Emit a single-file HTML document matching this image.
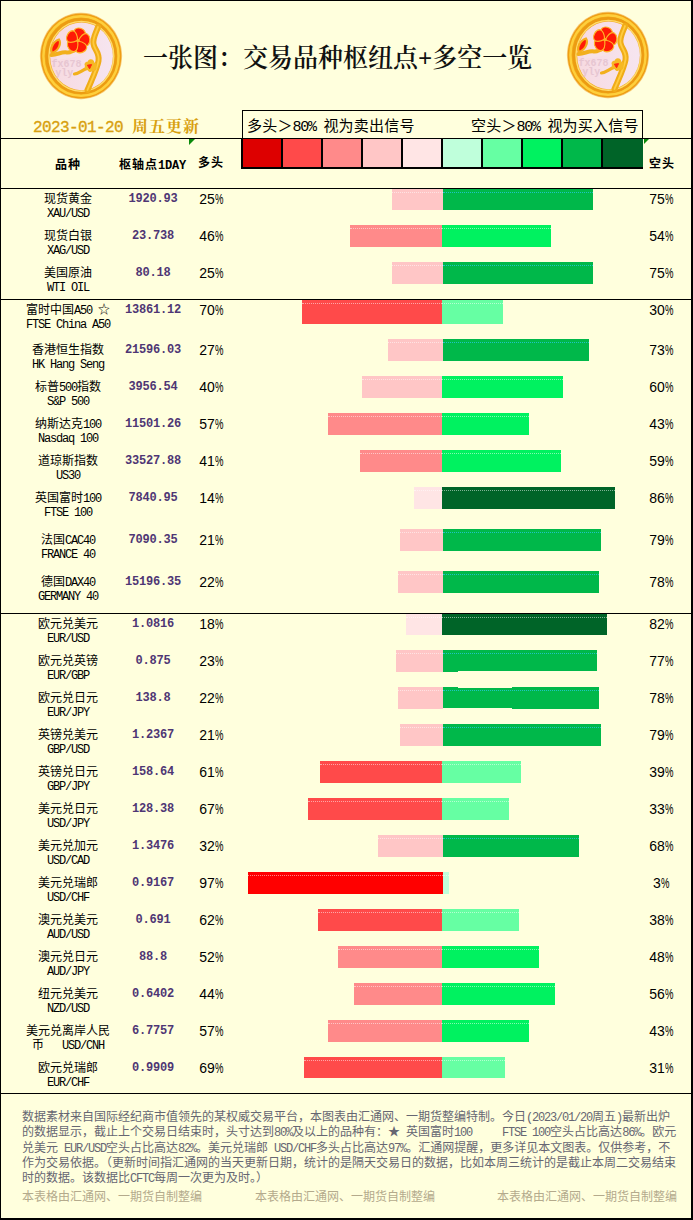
<!DOCTYPE html>
<html lang="zh-CN"><head><meta charset="utf-8"><title>一张图：交易品种枢纽点+多空一览</title>
<style>
html,body{margin:0;padding:0}
body{width:693px;height:1220px;position:relative;overflow:hidden;background:#FFFFDD;
 font-family:"Liberation Sans","Noto Sans CJK SC",sans-serif;font-size:12px;color:#000}
#frame{position:absolute;left:0;top:0;width:690px;height:1217px;border-style:solid;border-color:#000;border-width:1px 2px 2px 1px}
.a{position:absolute;white-space:nowrap}
.hl{position:absolute;left:0;width:691px;height:1px;background:#000}
.l{font-family:"Liberation Mono",monospace;letter-spacing:-0.1em}
.nm{left:8px;width:120px;text-align:center;font-size:12px;line-height:15px;height:15px}
.sb{left:8px;width:120px;text-align:center;font-size:12px;line-height:15px;height:15px}
.pv{left:113px;width:80px;text-align:center;font:bold 12px/15px "Liberation Mono",monospace;letter-spacing:-0.2px;color:#4E3674}
.pl{left:181px;width:60px;text-align:center;font:14px/16px "Liberation Sans",sans-serif}
.pr{left:631px;width:60px;text-align:center;font:14px/16px "Liberation Sans",sans-serif}
.pc{display:inline-block;width:8px;transform:scaleX(.68);transform-origin:0 50%}
.bar{position:absolute}
.dot{position:absolute;height:0;border-top:1px dotted rgba(255,255,255,.5)}
.dot.cy{border-top-color:rgba(40,200,235,.75)}
.hd{font-weight:bold;font-size:12px;line-height:15px;letter-spacing:1px}
.hd .l{letter-spacing:calc(-0.1em + 1px)}
.lg{font-size:15px;line-height:18px;letter-spacing:.2px}
.lg .l{letter-spacing:calc(-0.1em + .2px)}
.ft{left:22px;font-size:12px;line-height:15px;color:#666672}
.wm{font-size:12px;line-height:15px;color:#B4AA8C}
#title{left:143px;top:43px;transform:scaleY(1.05);transform-origin:0 50%;font:600 25px/32px "Liberation Serif","Noto Serif CJK SC",serif;letter-spacing:0;color:#111}
#date{left:33px;top:117px;font:bold 16px/20px "Liberation Serif","Noto Serif CJK SC",serif;letter-spacing:1px;color:#D8A010}
#date .l{letter-spacing:calc(-0.1em + 1px);font-weight:normal;-webkit-text-stroke:0.35px #D8A010}
.tri{position:absolute;width:0;height:0;border-style:solid;border-width:5px 5px 0 0;border-color:#0A8A0A transparent transparent transparent}
</style></head><body>
<div id="frame"></div>

<svg class="a" style="left:36px;top:9px" width="90" height="94" viewBox="0 0 90 94">
<defs>
<radialGradient id="rga" cx="50%" cy="50%" r="50%"><stop offset="0.70" stop-color="#F0A418"/><stop offset="0.90" stop-color="#F2A818"/><stop offset="0.965" stop-color="#EE9C14"/><stop offset="1" stop-color="#F4B850" stop-opacity=".5"/></radialGradient>
<linearGradient id="pka" x1="0" y1="0" x2="1" y2="0"><stop offset="0" stop-color="#F7DAE0"/><stop offset="1" stop-color="#F6E5F0"/></linearGradient>
</defs>
<ellipse cx="45" cy="47" rx="41.2" ry="43.4" fill="url(#rga)"/>
<ellipse cx="45" cy="47" rx="37.6" ry="39.8" fill="none" stroke="#FFD440" stroke-width="2.4" opacity=".9"/>
<ellipse cx="45.2" cy="47.2" rx="34.4" ry="36.8" fill="none" stroke="#EC9C12" stroke-width="2.6"/>
<ellipse cx="45.4" cy="47.3" rx="32.4" ry="34.9" fill="none" stroke="#FFDC6A" stroke-width="1.4"/>
<ellipse cx="45.5" cy="47.3" rx="31.4" ry="33.9" fill="url(#pka)"/>
<path d="M20 47 C30 44 34 47 44 41" fill="none" stroke="#F7E6E8" stroke-width="9" opacity=".55"/>
<path d="M62 18 C60 24 56.5 29 57.5 35 C58.5 41 64 44 62.5 52 C61 60 57 68 51.5 81" fill="none" stroke="#F0AC18" stroke-width="6" stroke-linecap="round"/>
<path d="M62 18 C60 24 56.5 29 57.5 35 C58.5 41 64 44 62.5 52 C61 60 57 68 51.5 81" fill="none" stroke="#FFCC40" stroke-width="1.8" stroke-linecap="round"/>
<path d="M15.5 46 C22 45.5 26 42.5 31 43.5 C34 44 36 42 39 41" fill="none" stroke="#F2B01C" stroke-width="4" stroke-linecap="round"/>
<path d="M38.5 65 C43 64.5 46 61 51 59.5" fill="none" stroke="#F2B01C" stroke-width="3.2" stroke-linecap="round"/>
<g transform="translate(42 31.6) scale(1.06 1.12)" fill="#FF1A06" stroke="#FFB428" stroke-width="1.1"><path d="M0 -0.4 C-3.4 -3 -6.6 -6.4 -4.6 -9.4 C-2.6 -12 3.2 -12 5.4 -8.6 C6.6 -6 4 -2.6 0 -0.4Z" transform="rotate(10)"/><path d="M0 -0.4 C-3.4 -3 -6.6 -6.4 -4.6 -9.4 C-2.6 -12 3.2 -12 5.4 -8.6 C6.6 -6 4 -2.6 0 -0.4Z" transform="rotate(82)"/><path d="M0 -0.4 C-3.4 -3 -6.6 -6.4 -4.6 -9.4 C-2.6 -12 3.2 -12 5.4 -8.6 C6.6 -6 4 -2.6 0 -0.4Z" transform="rotate(154)"/><path d="M0 -0.4 C-3.4 -3 -6.6 -6.4 -4.6 -9.4 C-2.6 -12 3.2 -12 5.4 -8.6 C6.6 -6 4 -2.6 0 -0.4Z" transform="rotate(226)"/><path d="M0 -0.4 C-3.4 -3 -6.6 -6.4 -4.6 -9.4 C-2.6 -12 3.2 -12 5.4 -8.6 C6.6 -6 4 -2.6 0 -0.4Z" transform="rotate(298)"/></g>
<circle cx="42" cy="31.6" r="1.7" fill="#FFB428"/>
<path d="M16 44 C13.6 40 17 32.5 23 30.5 C25.4 34 23 41.5 16 44Z" fill="#FF1A06" stroke="#F6AC1C" stroke-width="2.2"/>
<path d="M54.6 50.2 C57.4 50.2 58.4 52.4 58.2 53.6 C60.6 53.8 61.8 56 60.4 58 C61.2 60.4 59.4 62.4 57 61.8 C55.4 63.6 52.6 63.2 51.8 61.2 C49.4 61.2 48 59 49 57 C47.8 55 49.2 52.6 51.6 52.8 C52 51.2 53.2 50.2 54.6 50.2Z" fill="#F6B824"/>
<path d="M51.4 56.2 L55.6 55.6 L53.6 59.8Z" fill="#FF2A0C" stroke="#FF2A0C" stroke-width="1" stroke-linejoin="round"/>
<text x="15.4" y="57.6" font-family="Liberation Mono,monospace" font-weight="bold" font-size="10" fill="#DDB7C6" opacity=".6">fx678</text>
<text x="19.2" y="67.4" font-family="Liberation Mono,monospace" font-weight="bold" font-size="10" fill="#DDB7C6" opacity=".6">yly</text>
</svg>
<svg class="a" style="left:563px;top:8px" width="90" height="94" viewBox="0 0 90 94">
<defs>
<radialGradient id="rgb" cx="50%" cy="50%" r="50%"><stop offset="0.70" stop-color="#F0A418"/><stop offset="0.90" stop-color="#F2A818"/><stop offset="0.965" stop-color="#EE9C14"/><stop offset="1" stop-color="#F4B850" stop-opacity=".5"/></radialGradient>
<linearGradient id="pkb" x1="0" y1="0" x2="1" y2="0"><stop offset="0" stop-color="#F7DAE0"/><stop offset="1" stop-color="#F6E5F0"/></linearGradient>
</defs>
<ellipse cx="45" cy="47" rx="41.2" ry="43.4" fill="url(#rgb)"/>
<ellipse cx="45" cy="47" rx="37.6" ry="39.8" fill="none" stroke="#FFD440" stroke-width="2.4" opacity=".9"/>
<ellipse cx="45.2" cy="47.2" rx="34.4" ry="36.8" fill="none" stroke="#EC9C12" stroke-width="2.6"/>
<ellipse cx="45.4" cy="47.3" rx="32.4" ry="34.9" fill="none" stroke="#FFDC6A" stroke-width="1.4"/>
<ellipse cx="45.5" cy="47.3" rx="31.4" ry="33.9" fill="url(#pkb)"/>
<path d="M20 47 C30 44 34 47 44 41" fill="none" stroke="#F7E6E8" stroke-width="9" opacity=".55"/>
<path d="M62 18 C60 24 56.5 29 57.5 35 C58.5 41 64 44 62.5 52 C61 60 57 68 51.5 81" fill="none" stroke="#F0AC18" stroke-width="6" stroke-linecap="round"/>
<path d="M62 18 C60 24 56.5 29 57.5 35 C58.5 41 64 44 62.5 52 C61 60 57 68 51.5 81" fill="none" stroke="#FFCC40" stroke-width="1.8" stroke-linecap="round"/>
<path d="M15.5 46 C22 45.5 26 42.5 31 43.5 C34 44 36 42 39 41" fill="none" stroke="#F2B01C" stroke-width="4" stroke-linecap="round"/>
<path d="M38.5 65 C43 64.5 46 61 51 59.5" fill="none" stroke="#F2B01C" stroke-width="3.2" stroke-linecap="round"/>
<g transform="translate(42 31.6) scale(1.06 1.12)" fill="#FF1A06" stroke="#FFB428" stroke-width="1.1"><path d="M0 -0.4 C-3.4 -3 -6.6 -6.4 -4.6 -9.4 C-2.6 -12 3.2 -12 5.4 -8.6 C6.6 -6 4 -2.6 0 -0.4Z" transform="rotate(10)"/><path d="M0 -0.4 C-3.4 -3 -6.6 -6.4 -4.6 -9.4 C-2.6 -12 3.2 -12 5.4 -8.6 C6.6 -6 4 -2.6 0 -0.4Z" transform="rotate(82)"/><path d="M0 -0.4 C-3.4 -3 -6.6 -6.4 -4.6 -9.4 C-2.6 -12 3.2 -12 5.4 -8.6 C6.6 -6 4 -2.6 0 -0.4Z" transform="rotate(154)"/><path d="M0 -0.4 C-3.4 -3 -6.6 -6.4 -4.6 -9.4 C-2.6 -12 3.2 -12 5.4 -8.6 C6.6 -6 4 -2.6 0 -0.4Z" transform="rotate(226)"/><path d="M0 -0.4 C-3.4 -3 -6.6 -6.4 -4.6 -9.4 C-2.6 -12 3.2 -12 5.4 -8.6 C6.6 -6 4 -2.6 0 -0.4Z" transform="rotate(298)"/></g>
<circle cx="42" cy="31.6" r="1.7" fill="#FFB428"/>
<path d="M16 44 C13.6 40 17 32.5 23 30.5 C25.4 34 23 41.5 16 44Z" fill="#FF1A06" stroke="#F6AC1C" stroke-width="2.2"/>
<path d="M54.6 50.2 C57.4 50.2 58.4 52.4 58.2 53.6 C60.6 53.8 61.8 56 60.4 58 C61.2 60.4 59.4 62.4 57 61.8 C55.4 63.6 52.6 63.2 51.8 61.2 C49.4 61.2 48 59 49 57 C47.8 55 49.2 52.6 51.6 52.8 C52 51.2 53.2 50.2 54.6 50.2Z" fill="#F6B824"/>
<path d="M51.4 56.2 L55.6 55.6 L53.6 59.8Z" fill="#FF2A0C" stroke="#FF2A0C" stroke-width="1" stroke-linejoin="round"/>
<text x="15.4" y="57.6" font-family="Liberation Mono,monospace" font-weight="bold" font-size="10" fill="#DDB7C6" opacity=".6">fx678</text>
<text x="19.2" y="67.4" font-family="Liberation Mono,monospace" font-weight="bold" font-size="10" fill="#DDB7C6" opacity=".6">yly</text>
</svg>
<div id="title" class="a">一张图：交易品种枢纽点+多空一览</div>
<div id="date" class="a"><span class="l">2023-01-20&nbsp;</span>周五更新</div>
<div class="hl" style="top:138px"></div>
<div class="hl" style="top:188px"></div>
<div class="hl" style="top:299px"></div>
<div class="hl" style="top:613px"></div>
<div class="hl" style="top:1093px"></div>
<div class="a" style="left:242px;top:110px;width:399px;height:28px;border:1px solid #000;border-bottom:none"></div>
<div class="a lg" style="left:247px;top:117px">多头＞<span class="l">80%&nbsp;</span>视为卖出信号</div>
<div class="a lg" style="left:471px;top:117px">空头＞<span class="l">80%&nbsp;</span>视为买入信号</div>
<div class="a" style="left:241px;top:139px;width:402px;height:30px;background:#000"></div>
<div class="a" style="left:243px;top:139px;width:38px;height:28px;background:#DD0000"></div>
<div class="a" style="left:283px;top:139px;width:38px;height:28px;background:#FF4A4A"></div>
<div class="a" style="left:323px;top:139px;width:38px;height:28px;background:#FF8A8A"></div>
<div class="a" style="left:363px;top:139px;width:38px;height:28px;background:#FFC6C6"></div>
<div class="a" style="left:403px;top:139px;width:38px;height:28px;background:#FFE5E5"></div>
<div class="a" style="left:443px;top:139px;width:38px;height:28px;background:#BFFFDB"></div>
<div class="a" style="left:483px;top:139px;width:38px;height:28px;background:#66FFA3"></div>
<div class="a" style="left:523px;top:139px;width:38px;height:28px;background:#00F260"></div>
<div class="a" style="left:563px;top:139px;width:38px;height:28px;background:#00B84A"></div>
<div class="a" style="left:603px;top:139px;width:40px;height:28px;background:#006428"></div>
<div class="tri" style="left:189px;top:139px;border-width:6px 6px 0 0"></div>
<div class="tri" style="left:644px;top:139px"></div>
<div class="a hd" style="left:55px;top:158px">品种</div>
<div class="a hd" style="left:119px;top:158px">枢轴点<span class="l">1DAY</span></div>
<div class="a hd" style="left:198px;top:156px">多头</div>
<div class="a hd" style="left:649px;top:157px">空头</div>
<div class="a nm" style="top:192px">现货黄金</div>
<div class="a sb" style="top:206px"><span class="l">XAU/USD</span></div>
<div class="a pv" style="top:192px">1920.93</div>
<div class="a pl" style="top:191px">25<span class="pc">%</span></div>
<div class="a pr" style="top:191px">75<span class="pc">%</span></div>
<div class="bar" style="left:392px;top:189px;width:51px;height:21px;background:#FFC6C6"></div>
<div class="bar" style="left:443px;top:189px;width:150px;height:21px;background:#00B84A"></div>
<div class="dot" style="left:392px;top:192px;width:51px"></div>
<div class="dot cy" style="left:443px;top:192px;width:150px"></div>
<div class="a nm" style="top:229px">现货白银</div>
<div class="a sb" style="top:243px"><span class="l">XAG/USD</span></div>
<div class="a pv" style="top:229px">23.738</div>
<div class="a pl" style="top:228px">46<span class="pc">%</span></div>
<div class="a pr" style="top:228px">54<span class="pc">%</span></div>
<div class="bar" style="left:350px;top:225px;width:92px;height:22px;background:#FF8A8A"></div>
<div class="bar" style="left:442px;top:225px;width:109px;height:22px;background:#00F260"></div>
<div class="dot" style="left:350px;top:228px;width:92px"></div>
<div class="dot" style="left:442px;top:228px;width:109px"></div>
<div class="a nm" style="top:266px">美国原油</div>
<div class="a sb" style="top:280px"><span class="l">WTI&nbsp;OIL</span></div>
<div class="a pv" style="top:266px">80.18</div>
<div class="a pl" style="top:265px">25<span class="pc">%</span></div>
<div class="a pr" style="top:265px">75<span class="pc">%</span></div>
<div class="bar" style="left:392px;top:262px;width:51px;height:22px;background:#FFC6C6"></div>
<div class="bar" style="left:443px;top:262px;width:150px;height:22px;background:#00B84A"></div>
<div class="dot" style="left:392px;top:265px;width:51px"></div>
<div class="dot cy" style="left:443px;top:265px;width:150px"></div>
<div class="a nm" style="top:303px">富时中国<span class="l">A50&nbsp;</span>☆</div>
<div class="a sb" style="top:317px"><span class="l">FTSE&nbsp;China&nbsp;A50</span></div>
<div class="a pv" style="top:303px">13861.12</div>
<div class="a pl" style="top:302px">70<span class="pc">%</span></div>
<div class="a pr" style="top:302px">30<span class="pc">%</span></div>
<div class="bar" style="left:302px;top:300px;width:140px;height:24px;background:#FF4A4A"></div>
<div class="bar" style="left:442px;top:300px;width:61px;height:24px;background:#66FFA3"></div>
<div class="dot" style="left:302px;top:303px;width:140px"></div>
<div class="dot" style="left:442px;top:303px;width:61px"></div>
<div class="a nm" style="top:343px">香港恒生指数</div>
<div class="a sb" style="top:357px"><span class="l">HK&nbsp;Hang&nbsp;Seng</span></div>
<div class="a pv" style="top:343px">21596.03</div>
<div class="a pl" style="top:342px">27<span class="pc">%</span></div>
<div class="a pr" style="top:342px">73<span class="pc">%</span></div>
<div class="bar" style="left:388px;top:339px;width:55px;height:22px;background:#FFC6C6"></div>
<div class="bar" style="left:443px;top:339px;width:146px;height:22px;background:#00B84A"></div>
<div class="dot" style="left:388px;top:342px;width:55px"></div>
<div class="dot cy" style="left:443px;top:342px;width:146px"></div>
<div class="a nm" style="top:380px">标普<span class="l">500</span>指数</div>
<div class="a sb" style="top:394px"><span class="l">S&amp;P&nbsp;500</span></div>
<div class="a pv" style="top:380px">3956.54</div>
<div class="a pl" style="top:379px">40<span class="pc">%</span></div>
<div class="a pr" style="top:379px">60<span class="pc">%</span></div>
<div class="bar" style="left:362px;top:376px;width:80px;height:22px;background:#FFC6C6"></div>
<div class="bar" style="left:442px;top:376px;width:121px;height:22px;background:#00F260"></div>
<div class="dot" style="left:362px;top:379px;width:80px"></div>
<div class="dot" style="left:442px;top:379px;width:121px"></div>
<div class="a nm" style="top:417px">纳斯达克<span class="l">100</span></div>
<div class="a sb" style="top:431px"><span class="l">Nasdaq&nbsp;100</span></div>
<div class="a pv" style="top:417px">11501.26</div>
<div class="a pl" style="top:416px">57<span class="pc">%</span></div>
<div class="a pr" style="top:416px">43<span class="pc">%</span></div>
<div class="bar" style="left:328px;top:413px;width:114px;height:22px;background:#FF8A8A"></div>
<div class="bar" style="left:442px;top:413px;width:87px;height:22px;background:#00F260"></div>
<div class="dot" style="left:328px;top:416px;width:114px"></div>
<div class="dot" style="left:442px;top:416px;width:87px"></div>
<div class="a nm" style="top:454px">道琼斯指数</div>
<div class="a sb" style="top:468px"><span class="l">US30</span></div>
<div class="a pv" style="top:454px">33527.88</div>
<div class="a pl" style="top:453px">41<span class="pc">%</span></div>
<div class="a pr" style="top:453px">59<span class="pc">%</span></div>
<div class="bar" style="left:360px;top:450px;width:82px;height:22px;background:#FF8A8A"></div>
<div class="bar" style="left:442px;top:450px;width:119px;height:22px;background:#00F260"></div>
<div class="dot" style="left:360px;top:453px;width:82px"></div>
<div class="dot" style="left:442px;top:453px;width:119px"></div>
<div class="a nm" style="top:491px">英国富时<span class="l">100</span></div>
<div class="a sb" style="top:505px"><span class="l">FTSE&nbsp;100</span></div>
<div class="a pv" style="top:491px">7840.95</div>
<div class="a pl" style="top:490px">14<span class="pc">%</span></div>
<div class="a pr" style="top:490px">86<span class="pc">%</span></div>
<div class="bar" style="left:414px;top:487px;width:28px;height:22px;background:#FFE5E5"></div>
<div class="bar" style="left:442px;top:487px;width:173px;height:22px;background:#006428"></div>
<div class="dot" style="left:414px;top:490px;width:28px"></div>
<div class="dot" style="left:442px;top:490px;width:173px"></div>
<div class="a nm" style="top:533px">法国<span class="l">CAC40</span></div>
<div class="a sb" style="top:547px"><span class="l">FRANCE&nbsp;40</span></div>
<div class="a pv" style="top:533px">7090.35</div>
<div class="a pl" style="top:532px">21<span class="pc">%</span></div>
<div class="a pr" style="top:532px">79<span class="pc">%</span></div>
<div class="bar" style="left:400px;top:529px;width:43px;height:22px;background:#FFC6C6"></div>
<div class="bar" style="left:443px;top:529px;width:158px;height:22px;background:#00B84A"></div>
<div class="dot" style="left:400px;top:532px;width:43px"></div>
<div class="dot cy" style="left:443px;top:532px;width:158px"></div>
<div class="a nm" style="top:575px">德国<span class="l">DAX40</span></div>
<div class="a sb" style="top:589px"><span class="l">GERMANY&nbsp;40</span></div>
<div class="a pv" style="top:575px">15196.35</div>
<div class="a pl" style="top:574px">22<span class="pc">%</span></div>
<div class="a pr" style="top:574px">78<span class="pc">%</span></div>
<div class="bar" style="left:398px;top:571px;width:45px;height:22px;background:#FFC6C6"></div>
<div class="bar" style="left:443px;top:571px;width:156px;height:22px;background:#00B84A"></div>
<div class="dot" style="left:398px;top:574px;width:45px"></div>
<div class="dot cy" style="left:443px;top:574px;width:156px"></div>
<div class="a nm" style="top:617px">欧元兑美元</div>
<div class="a sb" style="top:631px"><span class="l">EUR/USD</span></div>
<div class="a pv" style="top:617px">1.0816</div>
<div class="a pl" style="top:616px">18<span class="pc">%</span></div>
<div class="a pr" style="top:616px">82<span class="pc">%</span></div>
<div class="bar" style="left:406px;top:614px;width:36px;height:21px;background:#FFE5E5"></div>
<div class="bar" style="left:442px;top:614px;width:165px;height:21px;background:#006428"></div>
<div class="dot" style="left:406px;top:617px;width:36px"></div>
<div class="dot" style="left:442px;top:617px;width:165px"></div>
<div class="a nm" style="top:654px">欧元兑英镑</div>
<div class="a sb" style="top:668px"><span class="l">EUR/GBP</span></div>
<div class="a pv" style="top:654px">0.875</div>
<div class="a pl" style="top:653px">23<span class="pc">%</span></div>
<div class="a pr" style="top:653px">77<span class="pc">%</span></div>
<div class="bar" style="left:396px;top:650px;width:47px;height:22px;background:#FFC6C6"></div>
<div class="bar" style="left:443px;top:650px;width:154px;height:22px;background:#00B84A"></div>
<div class="dot" style="left:396px;top:653px;width:47px"></div>
<div class="dot cy" style="left:443px;top:653px;width:154px"></div>
<div class="bar" style="left:458px;top:671px;width:140px;height:1px;background:#FFFFDD"></div>
<div class="a nm" style="top:691px">欧元兑日元</div>
<div class="a sb" style="top:705px"><span class="l">EUR/JPY</span></div>
<div class="a pv" style="top:691px">138.8</div>
<div class="a pl" style="top:690px">22<span class="pc">%</span></div>
<div class="a pr" style="top:690px">78<span class="pc">%</span></div>
<div class="bar" style="left:398px;top:687px;width:45px;height:22px;background:#FFC6C6"></div>
<div class="bar" style="left:443px;top:687px;width:156px;height:22px;background:#00B84A"></div>
<div class="dot" style="left:398px;top:690px;width:45px"></div>
<div class="dot cy" style="left:443px;top:690px;width:156px"></div>
<div class="bar" style="left:458px;top:687px;width:54px;height:1px;background:#FFFFDD"></div>
<div class="bar" style="left:443px;top:708px;width:69px;height:1px;background:#FFFFDD"></div>
<div class="a nm" style="top:728px">英镑兑美元</div>
<div class="a sb" style="top:742px"><span class="l">GBP/USD</span></div>
<div class="a pv" style="top:728px">1.2367</div>
<div class="a pl" style="top:727px">21<span class="pc">%</span></div>
<div class="a pr" style="top:727px">79<span class="pc">%</span></div>
<div class="bar" style="left:400px;top:724px;width:43px;height:22px;background:#FFC6C6"></div>
<div class="bar" style="left:443px;top:724px;width:158px;height:22px;background:#00B84A"></div>
<div class="dot" style="left:400px;top:727px;width:43px"></div>
<div class="dot cy" style="left:443px;top:727px;width:158px"></div>
<div class="a nm" style="top:765px">英镑兑日元</div>
<div class="a sb" style="top:779px"><span class="l">GBP/JPY</span></div>
<div class="a pv" style="top:765px">158.64</div>
<div class="a pl" style="top:764px">61<span class="pc">%</span></div>
<div class="a pr" style="top:764px">39<span class="pc">%</span></div>
<div class="bar" style="left:320px;top:761px;width:122px;height:22px;background:#FF4A4A"></div>
<div class="bar" style="left:442px;top:761px;width:79px;height:22px;background:#66FFA3"></div>
<div class="dot" style="left:320px;top:764px;width:122px"></div>
<div class="dot" style="left:442px;top:764px;width:79px"></div>
<div class="a nm" style="top:802px">美元兑日元</div>
<div class="a sb" style="top:816px"><span class="l">USD/JPY</span></div>
<div class="a pv" style="top:802px">128.38</div>
<div class="a pl" style="top:801px">67<span class="pc">%</span></div>
<div class="a pr" style="top:801px">33<span class="pc">%</span></div>
<div class="bar" style="left:308px;top:798px;width:134px;height:22px;background:#FF4A4A"></div>
<div class="bar" style="left:442px;top:798px;width:67px;height:22px;background:#66FFA3"></div>
<div class="dot" style="left:308px;top:801px;width:134px"></div>
<div class="dot" style="left:442px;top:801px;width:67px"></div>
<div class="a nm" style="top:839px">美元兑加元</div>
<div class="a sb" style="top:853px"><span class="l">USD/CAD</span></div>
<div class="a pv" style="top:839px">1.3476</div>
<div class="a pl" style="top:838px">32<span class="pc">%</span></div>
<div class="a pr" style="top:838px">68<span class="pc">%</span></div>
<div class="bar" style="left:378px;top:835px;width:65px;height:22px;background:#FFC6C6"></div>
<div class="bar" style="left:443px;top:835px;width:136px;height:22px;background:#00B84A"></div>
<div class="dot" style="left:378px;top:838px;width:65px"></div>
<div class="dot cy" style="left:443px;top:838px;width:136px"></div>
<div class="a nm" style="top:876px">美元兑瑞郎</div>
<div class="a sb" style="top:890px"><span class="l">USD/CHF</span></div>
<div class="a pv" style="top:876px">0.9167</div>
<div class="a pl" style="top:875px">97<span class="pc">%</span></div>
<div class="a pr" style="top:875px">3<span class="pc">%</span></div>
<div class="bar" style="left:248px;top:872px;width:195px;height:22px;background:#FF0000"></div>
<div class="bar" style="left:443px;top:872px;width:6px;height:22px;background:#BFFFDB"></div>
<div class="dot" style="left:248px;top:875px;width:195px"></div>
<div class="dot" style="left:443px;top:875px;width:6px"></div>
<div class="a nm" style="top:913px">澳元兑美元</div>
<div class="a sb" style="top:927px"><span class="l">AUD/USD</span></div>
<div class="a pv" style="top:913px">0.691</div>
<div class="a pl" style="top:912px">62<span class="pc">%</span></div>
<div class="a pr" style="top:912px">38<span class="pc">%</span></div>
<div class="bar" style="left:318px;top:909px;width:124px;height:22px;background:#FF4A4A"></div>
<div class="bar" style="left:442px;top:909px;width:77px;height:22px;background:#66FFA3"></div>
<div class="dot" style="left:318px;top:912px;width:124px"></div>
<div class="dot" style="left:442px;top:912px;width:77px"></div>
<div class="a nm" style="top:950px">澳元兑日元</div>
<div class="a sb" style="top:964px"><span class="l">AUD/JPY</span></div>
<div class="a pv" style="top:950px">88.8</div>
<div class="a pl" style="top:949px">52<span class="pc">%</span></div>
<div class="a pr" style="top:949px">48<span class="pc">%</span></div>
<div class="bar" style="left:338px;top:946px;width:104px;height:22px;background:#FF8A8A"></div>
<div class="bar" style="left:442px;top:946px;width:97px;height:22px;background:#00F260"></div>
<div class="dot" style="left:338px;top:949px;width:104px"></div>
<div class="dot" style="left:442px;top:949px;width:97px"></div>
<div class="a nm" style="top:987px">纽元兑美元</div>
<div class="a sb" style="top:1001px"><span class="l">NZD/USD</span></div>
<div class="a pv" style="top:987px">0.6402</div>
<div class="a pl" style="top:986px">44<span class="pc">%</span></div>
<div class="a pr" style="top:986px">56<span class="pc">%</span></div>
<div class="bar" style="left:354px;top:983px;width:88px;height:22px;background:#FF8A8A"></div>
<div class="bar" style="left:442px;top:983px;width:113px;height:22px;background:#00F260"></div>
<div class="dot" style="left:354px;top:986px;width:88px"></div>
<div class="dot" style="left:442px;top:986px;width:113px"></div>
<div class="a nm" style="top:1024px">美元兑离岸人民</div>
<div class="a sb" style="top:1038px">币<span class="l">&nbsp;&nbsp;&nbsp;USD/CNH</span></div>
<div class="a pv" style="top:1024px">6.7757</div>
<div class="a pl" style="top:1023px">57<span class="pc">%</span></div>
<div class="a pr" style="top:1023px">43<span class="pc">%</span></div>
<div class="bar" style="left:328px;top:1020px;width:114px;height:22px;background:#FF8A8A"></div>
<div class="bar" style="left:442px;top:1020px;width:87px;height:22px;background:#00F260"></div>
<div class="dot" style="left:328px;top:1023px;width:114px"></div>
<div class="dot" style="left:442px;top:1023px;width:87px"></div>
<div class="a nm" style="top:1061px">欧元兑瑞郎</div>
<div class="a sb" style="top:1075px"><span class="l">EUR/CHF</span></div>
<div class="a pv" style="top:1061px">0.9909</div>
<div class="a pl" style="top:1060px">69<span class="pc">%</span></div>
<div class="a pr" style="top:1060px">31<span class="pc">%</span></div>
<div class="bar" style="left:304px;top:1057px;width:138px;height:21px;background:#FF4A4A"></div>
<div class="bar" style="left:442px;top:1057px;width:63px;height:21px;background:#66FFA3"></div>
<div class="dot" style="left:304px;top:1060px;width:138px"></div>
<div class="dot" style="left:442px;top:1060px;width:63px"></div>
<div class="a ft" style="top:1110px">数据素材来自国际经纪商市值领先的某权威交易平台，本图表由汇通网、一期货整编特制。今日<span class="l">(2023/01/20</span>周五<span class="l">)</span>最新出炉</div>
<div class="a ft" style="top:1125px">的数据显示，截止上个交易日结束时，头寸达到<span class="l">80%</span>及以上的品种有：★<span class="l">&nbsp;</span>英国富时<span class="l">100&nbsp;&nbsp;&nbsp;&nbsp;&nbsp;FTSE&nbsp;100</span>空头占比高达<span class="l">86%</span>。欧元</div>
<div class="a ft" style="top:1141px">兑美元<span class="l">&nbsp;EUR/USD</span>空头占比高达<span class="l">82%</span>。美元兑瑞郎<span class="l">&nbsp;USD/CHF</span>多头占比高达<span class="l">97%</span>。汇通网提醒，更多详见本文图表。仅供参考，不</div>
<div class="a ft" style="top:1156px">作为交易依据。（更新时间指汇通网的当天更新日期，统计的是隔天交易日的数据，比如本周三统计的是截止本周二交易结束</div>
<div class="a ft" style="top:1171px">时的数据。该数据比<span class="l">CFTC</span>每周一次更为及时。）</div>
<div class="a wm" style="left:22px;top:1190px">本表格由汇通网、一期货自制整编</div>
<div class="a wm" style="left:255px;top:1190px">本表格由汇通网、一期货自制整编</div>
<div class="a wm" style="left:497px;top:1190px">本表格由汇通网、一期货自制整编</div>
</body></html>
